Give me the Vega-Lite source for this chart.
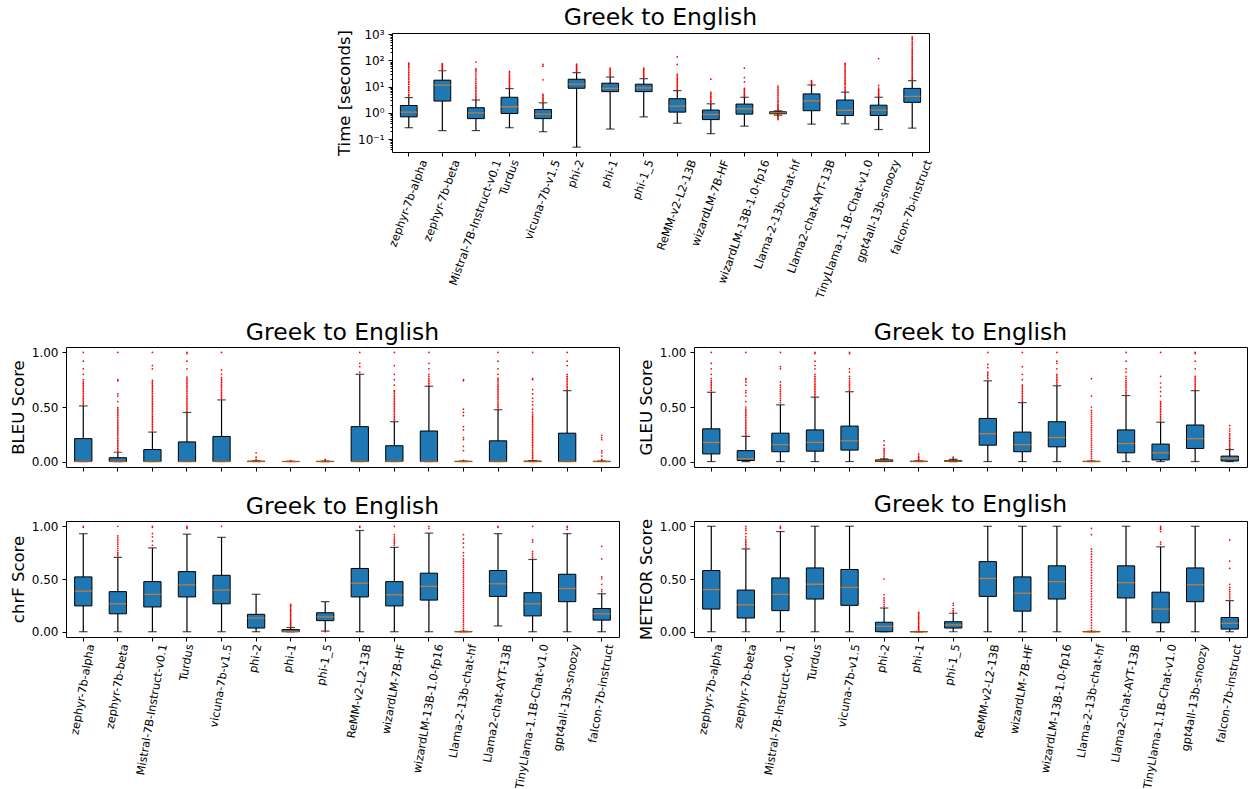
{
"$schema": "https://vega.github.io/schema/vega-lite/v6.json",
"background": "white",
"padding": {"left": 10, "top": 5, "right": 0, "bottom": 0},
"config": {
  "font": "DejaVu Sans",
  "view": {"stroke": "#000", "strokeWidth": 1},
  "axis": {"labelFont": "DejaVu Sans", "titleFont": "DejaVu Sans", "labelFontSize": 12, "titleFontSize": 16.5, "titleFontWeight": "normal", "labelColor": "#000", "titleColor": "#000", "tickColor": "#000", "tickSize": 4, "tickWidth": 1, "labelPadding": 4, "titlePadding": 4.7, "domain": false, "grid": false, "labelOverlap": false},
  "axisX": {"labelFontSize": 11.3},
  "title": {"font": "DejaVu Sans", "fontSize": 23.5, "fontWeight": "normal", "color": "#000", "offset": 2, "anchor": "middle"}
},
"datasets": {
  "models": [{"i":1,"k":"zephyr-7b-alpha"},{"i":2,"k":"zephyr-7b-beta"},{"i":3,"k":"Mistral-7B-Instruct-v0.1"},{"i":4,"k":"Turdus"},{"i":5,"k":"vicuna-7b-v1.5"},{"i":6,"k":"phi-2"},{"i":7,"k":"phi-1"},{"i":8,"k":"phi-1_5"},{"i":9,"k":"ReMM-v2-L2-13B"},{"i":10,"k":"wizardLM-7B-HF"},{"i":11,"k":"wizardLM-13B-1.0-fp16"},{"i":12,"k":"Llama-2-13b-chat-hf"},{"i":13,"k":"Llama2-chat-AYT-13B"},{"i":14,"k":"TinyLlama-1.1B-Chat-v1.0"},{"i":15,"k":"gpt4all-13b-snoozy"},{"i":16,"k":"falcon-7b-instruct"}],
  "stats": [
    {"m":"T","i":1,"lo":0.27,"q1":0.7,"md":1.06,"q3":1.9,"hi":3.8},
    {"m":"T","i":2,"lo":0.21,"q1":2.8,"md":11.3,"q3":17.5,"hi":40},
    {"m":"T","i":3,"lo":0.21,"q1":0.6,"md":1.0,"q3":1.56,"hi":3.07},
    {"m":"T","i":4,"lo":0.27,"q1":0.94,"md":1.7,"q3":3.9,"hi":8.4},
    {"m":"T","i":5,"lo":0.19,"q1":0.6,"md":0.89,"q3":1.34,"hi":2.4},
    {"m":"T","i":6,"lo":0.049,"q1":8.6,"md":12.3,"q3":19,"hi":34},
    {"m":"T","i":7,"lo":0.24,"q1":6.4,"md":8.6,"q3":13.4,"hi":23},
    {"m":"T","i":8,"lo":0.7,"q1":6.4,"md":8.9,"q3":12.3,"hi":20},
    {"m":"T","i":9,"lo":0.4,"q1":1.06,"md":1.8,"q3":3.45,"hi":7.0},
    {"m":"T","i":10,"lo":0.16,"q1":0.55,"md":0.86,"q3":1.27,"hi":2.2},
    {"m":"T","i":11,"lo":0.31,"q1":0.89,"md":1.42,"q3":2.15,"hi":3.9},
    {"m":"T","i":12,"lo":0.81,"q1":0.92,"md":1.0,"q3":1.09,"hi":1.19},
    {"m":"T","i":13,"lo":0.37,"q1":1.2,"md":2.85,"q3":5.25,"hi":11.5},
    {"m":"T","i":14,"lo":0.38,"q1":0.79,"md":1.24,"q3":3.06,"hi":6.1},
    {"m":"T","i":15,"lo":0.23,"q1":0.79,"md":1.27,"q3":1.95,"hi":3.9},
    {"m":"T","i":16,"lo":0.26,"q1":2.5,"md":4.2,"q3":8.5,"hi":16.8},
    {"m":"B","i":1,"lo":0,"q1":0,"md":0,"q3":0.21,"hi":0.51},
    {"m":"B","i":2,"lo":0,"q1":0,"md":0,"q3":0.035,"hi":0.085},
    {"m":"B","i":3,"lo":0,"q1":0,"md":0,"q3":0.11,"hi":0.27},
    {"m":"B","i":4,"lo":0,"q1":0,"md":0,"q3":0.18,"hi":0.45},
    {"m":"B","i":5,"lo":0,"q1":0,"md":0,"q3":0.23,"hi":0.565},
    {"m":"B","i":6,"lo":0,"q1":0,"md":0,"q3":0.003,"hi":0.006},
    {"m":"B","i":7,"lo":0,"q1":0,"md":0,"q3":0.001,"hi":0.002},
    {"m":"B","i":8,"lo":0,"q1":0,"md":0,"q3":0.002,"hi":0.004},
    {"m":"B","i":9,"lo":0,"q1":0,"md":0,"q3":0.32,"hi":0.8},
    {"m":"B","i":10,"lo":0,"q1":0,"md":0,"q3":0.145,"hi":0.365},
    {"m":"B","i":11,"lo":0,"q1":0,"md":0,"q3":0.28,"hi":0.69},
    {"m":"B","i":12,"lo":0,"q1":0,"md":0,"q3":0.002,"hi":0.004},
    {"m":"B","i":13,"lo":0,"q1":0,"md":0,"q3":0.19,"hi":0.475},
    {"m":"B","i":14,"lo":0,"q1":0,"md":0,"q3":0.004,"hi":0.008},
    {"m":"B","i":15,"lo":0,"q1":0,"md":0,"q3":0.26,"hi":0.65},
    {"m":"B","i":16,"lo":0,"q1":0,"md":0,"q3":0.002,"hi":0.004},
    {"m":"G","i":1,"lo":0,"q1":0.07,"md":0.175,"q3":0.3,"hi":0.635},
    {"m":"G","i":2,"lo":0,"q1":0.01,"md":0.025,"q3":0.1,"hi":0.23},
    {"m":"G","i":3,"lo":0,"q1":0.09,"md":0.155,"q3":0.26,"hi":0.52},
    {"m":"G","i":4,"lo":0,"q1":0.095,"md":0.175,"q3":0.29,"hi":0.59},
    {"m":"G","i":5,"lo":0,"q1":0.105,"md":0.19,"q3":0.325,"hi":0.64},
    {"m":"G","i":6,"lo":0,"q1":0,"md":0.005,"q3":0.015,"hi":0.025},
    {"m":"G","i":7,"lo":0,"q1":0,"md":0.001,"q3":0.003,"hi":0.006},
    {"m":"G","i":8,"lo":0,"q1":0.002,"md":0.005,"q3":0.01,"hi":0.02},
    {"m":"G","i":9,"lo":0,"q1":0.15,"md":0.255,"q3":0.395,"hi":0.74},
    {"m":"G","i":10,"lo":0,"q1":0.09,"md":0.155,"q3":0.27,"hi":0.54},
    {"m":"G","i":11,"lo":0,"q1":0.135,"md":0.22,"q3":0.365,"hi":0.695},
    {"m":"G","i":12,"lo":0,"q1":0,"md":0,"q3":0.002,"hi":0.004},
    {"m":"G","i":13,"lo":0,"q1":0.08,"md":0.165,"q3":0.29,"hi":0.605},
    {"m":"G","i":14,"lo":0,"q1":0.015,"md":0.08,"q3":0.16,"hi":0.36},
    {"m":"G","i":15,"lo":0,"q1":0.12,"md":0.21,"q3":0.335,"hi":0.65},
    {"m":"G","i":16,"lo":0,"q1":0.005,"md":0.03,"q3":0.05,"hi":0.11},
    {"m":"C","i":1,"lo":0,"q1":0.245,"md":0.385,"q3":0.52,"hi":0.93},
    {"m":"C","i":2,"lo":0,"q1":0.17,"md":0.265,"q3":0.38,"hi":0.705},
    {"m":"C","i":3,"lo":0,"q1":0.235,"md":0.355,"q3":0.475,"hi":0.795},
    {"m":"C","i":4,"lo":0,"q1":0.33,"md":0.445,"q3":0.57,"hi":0.925},
    {"m":"C","i":5,"lo":0,"q1":0.265,"md":0.395,"q3":0.535,"hi":0.895},
    {"m":"C","i":6,"lo":0,"q1":0.035,"md":0.13,"q3":0.165,"hi":0.355},
    {"m":"C","i":7,"lo":0,"q1":0,"md":0.003,"q3":0.02,"hi":0.04},
    {"m":"C","i":8,"lo":0.005,"q1":0.105,"md":0.14,"q3":0.18,"hi":0.285},
    {"m":"C","i":9,"lo":0,"q1":0.33,"md":0.46,"q3":0.6,"hi":0.96},
    {"m":"C","i":10,"lo":0,"q1":0.245,"md":0.35,"q3":0.475,"hi":0.8},
    {"m":"C","i":11,"lo":0,"q1":0.3,"md":0.43,"q3":0.555,"hi":0.935},
    {"m":"C","i":12,"lo":0,"q1":0,"md":0,"q3":0.002,"hi":0.004},
    {"m":"C","i":13,"lo":0.055,"q1":0.335,"md":0.455,"q3":0.58,"hi":0.93},
    {"m":"C","i":14,"lo":0,"q1":0.15,"md":0.265,"q3":0.37,"hi":0.685},
    {"m":"C","i":15,"lo":0,"q1":0.285,"md":0.41,"q3":0.545,"hi":0.93},
    {"m":"C","i":16,"lo":0,"q1":0.11,"md":0.17,"q3":0.22,"hi":0.36},
    {"m":"M","i":1,"lo":0,"q1":0.215,"md":0.4,"q3":0.58,"hi":1.0},
    {"m":"M","i":2,"lo":0,"q1":0.13,"md":0.255,"q3":0.395,"hi":0.785},
    {"m":"M","i":3,"lo":0,"q1":0.2,"md":0.355,"q3":0.51,"hi":0.95},
    {"m":"M","i":4,"lo":0,"q1":0.31,"md":0.45,"q3":0.605,"hi":1.0},
    {"m":"M","i":5,"lo":0,"q1":0.25,"md":0.42,"q3":0.59,"hi":1.0},
    {"m":"M","i":6,"lo":0,"q1":0,"md":0.05,"q3":0.09,"hi":0.225},
    {"m":"M","i":7,"lo":0,"q1":0,"md":0,"q3":0.001,"hi":0.002},
    {"m":"M","i":8,"lo":0,"q1":0.035,"md":0.065,"q3":0.095,"hi":0.175},
    {"m":"M","i":9,"lo":0,"q1":0.335,"md":0.505,"q3":0.665,"hi":1.0},
    {"m":"M","i":10,"lo":0,"q1":0.195,"md":0.365,"q3":0.52,"hi":1.0},
    {"m":"M","i":11,"lo":0,"q1":0.31,"md":0.475,"q3":0.625,"hi":1.0},
    {"m":"M","i":12,"lo":0,"q1":0,"md":0,"q3":0.002,"hi":0.004},
    {"m":"M","i":13,"lo":0,"q1":0.32,"md":0.465,"q3":0.625,"hi":1.0},
    {"m":"M","i":14,"lo":0,"q1":0.085,"md":0.215,"q3":0.375,"hi":0.805},
    {"m":"M","i":15,"lo":0,"q1":0.285,"md":0.445,"q3":0.605,"hi":1.0},
    {"m":"M","i":16,"lo":0,"q1":0.025,"md":0.08,"q3":0.135,"hi":0.295}
  ],
  "oT": [
    {"i":1,"v":4},{"i":1,"v":4.5},{"i":1,"v":5},{"i":1,"v":6},{"i":1,"v":7},{"i":1,"v":8},{"i":1,"v":9},{"i":1,"v":10},{"i":1,"v":12},{"i":1,"v":14},{"i":1,"v":16},{"i":1,"v":19},{"i":1,"v":22},{"i":1,"v":26},{"i":1,"v":30},{"i":1,"v":35},{"i":1,"v":40},{"i":1,"v":47},{"i":1,"v":55},{"i":1,"v":62},{"i":1,"v":70},{"i":1,"v":78},
    {"i":2,"v":42},{"i":2,"v":45},{"i":2,"v":48},{"i":2,"v":52},{"i":2,"v":56},{"i":2,"v":60},{"i":2,"v":65},{"i":2,"v":70},{"i":2,"v":75},
    {"i":3,"v":3.3},{"i":3,"v":3.7},{"i":3,"v":4.2},{"i":3,"v":4.8},{"i":3,"v":5.5},{"i":3,"v":6.3},{"i":3,"v":7.2},{"i":3,"v":8.3},{"i":3,"v":9.5},{"i":3,"v":11},{"i":3,"v":13},{"i":3,"v":15},{"i":3,"v":18},{"i":3,"v":21},{"i":3,"v":25},{"i":3,"v":30},{"i":3,"v":36},{"i":3,"v":42},{"i":3,"v":47},{"i":3,"v":86},
    {"i":4,"v":9},{"i":4,"v":10},{"i":4,"v":11},{"i":4,"v":12.5},{"i":4,"v":14},{"i":4,"v":16},{"i":4,"v":18},{"i":4,"v":20},{"i":4,"v":23},{"i":4,"v":26},{"i":4,"v":30},{"i":4,"v":34},{"i":4,"v":38},
    {"i":5,"v":2.6},{"i":5,"v":2.9},{"i":5,"v":3.2},{"i":5,"v":3.6},{"i":5,"v":4},{"i":5,"v":4.5},{"i":5,"v":5},{"i":5,"v":18},{"i":5,"v":60},{"i":5,"v":70},
    {"i":6,"v":36},{"i":6,"v":39},{"i":6,"v":42},{"i":6,"v":46},{"i":6,"v":50},{"i":6,"v":55},{"i":6,"v":60},{"i":6,"v":66},{"i":6,"v":72},
    {"i":7,"v":25},{"i":7,"v":27},{"i":7,"v":30},{"i":7,"v":33},{"i":7,"v":36},{"i":7,"v":40},{"i":7,"v":44},{"i":7,"v":50},
    {"i":8,"v":22},{"i":8,"v":24},{"i":8,"v":27},{"i":8,"v":30},{"i":8,"v":33},{"i":8,"v":37},{"i":8,"v":41},{"i":8,"v":46},{"i":8,"v":50},
    {"i":9,"v":7.5},{"i":9,"v":8.2},{"i":9,"v":9},{"i":9,"v":10},{"i":9,"v":11},{"i":9,"v":12.5},{"i":9,"v":14},{"i":9,"v":16},{"i":9,"v":18},{"i":9,"v":20},{"i":9,"v":23},{"i":9,"v":26},{"i":9,"v":30},{"i":9,"v":70},{"i":9,"v":135},
    {"i":10,"v":2.4},{"i":10,"v":2.7},{"i":10,"v":3},{"i":10,"v":3.4},{"i":10,"v":3.8},{"i":10,"v":4.3},{"i":10,"v":4.9},{"i":10,"v":5.5},{"i":10,"v":6.2},{"i":10,"v":19},
    {"i":11,"v":4.2},{"i":11,"v":4.6},{"i":11,"v":5.1},{"i":11,"v":5.7},{"i":11,"v":6.3},{"i":11,"v":7},{"i":11,"v":7.8},{"i":11,"v":8.5},{"i":11,"v":15},{"i":11,"v":22},{"i":11,"v":50},
    {"i":12,"v":0.55},{"i":12,"v":0.6},{"i":12,"v":0.65},{"i":12,"v":0.7},{"i":12,"v":0.75},{"i":12,"v":0.8},{"i":12,"v":1.22},{"i":12,"v":1.3},{"i":12,"v":1.4},{"i":12,"v":1.55},{"i":12,"v":1.7},{"i":12,"v":1.9},{"i":12,"v":2.1},{"i":12,"v":2.4},{"i":12,"v":2.7},{"i":12,"v":3},{"i":12,"v":3.5},{"i":12,"v":4},{"i":12,"v":4.6},{"i":12,"v":5.3},{"i":12,"v":6.1},{"i":12,"v":7},{"i":12,"v":8},{"i":12,"v":9.2},{"i":12,"v":10.5},
    {"i":13,"v":12.5},{"i":13,"v":13.5},{"i":13,"v":14.5},{"i":13,"v":15.5},{"i":13,"v":17},
    {"i":14,"v":6.6},{"i":14,"v":7.3},{"i":14,"v":8.2},{"i":14,"v":9.2},{"i":14,"v":10.5},{"i":14,"v":12},{"i":14,"v":13.5},{"i":14,"v":15},{"i":14,"v":17},{"i":14,"v":19.5},{"i":14,"v":22},{"i":14,"v":25},{"i":14,"v":28},{"i":14,"v":32},{"i":14,"v":36},{"i":14,"v":41},{"i":14,"v":47},{"i":14,"v":54},{"i":14,"v":62},{"i":14,"v":70},{"i":14,"v":76},
    {"i":15,"v":4.1},{"i":15,"v":4.5},{"i":15,"v":5},{"i":15,"v":5.6},{"i":15,"v":6.3},{"i":15,"v":7},{"i":15,"v":7.8},{"i":15,"v":8.8},{"i":15,"v":11},{"i":15,"v":117},
    {"i":16,"v":18},{"i":16,"v":20},{"i":16,"v":22.5},{"i":16,"v":25},{"i":16,"v":28},{"i":16,"v":32},{"i":16,"v":36},{"i":16,"v":41},{"i":16,"v":46},{"i":16,"v":52},{"i":16,"v":59},{"i":16,"v":67},{"i":16,"v":76},{"i":16,"v":86},{"i":16,"v":97},{"i":16,"v":110},{"i":16,"v":125},{"i":16,"v":140},{"i":16,"v":160},{"i":16,"v":180},{"i":16,"v":205},{"i":16,"v":230},{"i":16,"v":260},{"i":16,"v":300},{"i":16,"v":350},{"i":16,"v":400},{"i":16,"v":460},{"i":16,"v":530},{"i":16,"v":620},{"i":16,"v":700},{"i":16,"v":790}
  ],
  "oB": [
    {"i":1,"v":0.52},{"i":1,"v":0.535},{"i":1,"v":0.55},{"i":1,"v":0.565},{"i":1,"v":0.58},{"i":1,"v":0.595},{"i":1,"v":0.61},{"i":1,"v":0.625},{"i":1,"v":0.64},{"i":1,"v":0.655},{"i":1,"v":0.67},{"i":1,"v":0.685},{"i":1,"v":0.7},{"i":1,"v":0.715},{"i":1,"v":0.73},{"i":1,"v":0.75},{"i":1,"v":0.8},{"i":1,"v":0.85},{"i":1,"v":0.92},{"i":1,"v":1},
    {"i":2,"v":0.09},{"i":2,"v":0.105},{"i":2,"v":0.12},{"i":2,"v":0.135},{"i":2,"v":0.15},{"i":2,"v":0.165},{"i":2,"v":0.18},{"i":2,"v":0.195},{"i":2,"v":0.21},{"i":2,"v":0.225},{"i":2,"v":0.24},{"i":2,"v":0.255},{"i":2,"v":0.27},{"i":2,"v":0.285},{"i":2,"v":0.3},{"i":2,"v":0.315},{"i":2,"v":0.33},{"i":2,"v":0.345},{"i":2,"v":0.36},{"i":2,"v":0.375},{"i":2,"v":0.39},{"i":2,"v":0.405},{"i":2,"v":0.42},{"i":2,"v":0.435},{"i":2,"v":0.45},{"i":2,"v":0.465},{"i":2,"v":0.48},{"i":2,"v":0.495},{"i":2,"v":0.55},{"i":2,"v":0.6},{"i":2,"v":0.62},{"i":2,"v":0.74},{"i":2,"v":0.75},{"i":2,"v":1},
    {"i":3,"v":0.28},{"i":3,"v":0.295},{"i":3,"v":0.31},{"i":3,"v":0.325},{"i":3,"v":0.34},{"i":3,"v":0.355},{"i":3,"v":0.37},{"i":3,"v":0.385},{"i":3,"v":0.4},{"i":3,"v":0.415},{"i":3,"v":0.43},{"i":3,"v":0.445},{"i":3,"v":0.46},{"i":3,"v":0.475},{"i":3,"v":0.49},{"i":3,"v":0.505},{"i":3,"v":0.52},{"i":3,"v":0.535},{"i":3,"v":0.55},{"i":3,"v":0.565},{"i":3,"v":0.58},{"i":3,"v":0.595},{"i":3,"v":0.61},{"i":3,"v":0.625},{"i":3,"v":0.64},{"i":3,"v":0.655},{"i":3,"v":0.67},{"i":3,"v":0.685},{"i":3,"v":0.7},{"i":3,"v":0.715},{"i":3,"v":0.73},{"i":3,"v":0.745},{"i":3,"v":0.85},{"i":3,"v":0.88},{"i":3,"v":1},
    {"i":4,"v":0.46},{"i":4,"v":0.475},{"i":4,"v":0.49},{"i":4,"v":0.505},{"i":4,"v":0.52},{"i":4,"v":0.535},{"i":4,"v":0.55},{"i":4,"v":0.565},{"i":4,"v":0.58},{"i":4,"v":0.595},{"i":4,"v":0.61},{"i":4,"v":0.625},{"i":4,"v":0.64},{"i":4,"v":0.655},{"i":4,"v":0.67},{"i":4,"v":0.685},{"i":4,"v":0.7},{"i":4,"v":0.715},{"i":4,"v":0.73},{"i":4,"v":0.745},{"i":4,"v":0.76},{"i":4,"v":0.775},{"i":4,"v":0.85},{"i":4,"v":0.92},{"i":4,"v":0.99},{"i":4,"v":1},
    {"i":5,"v":0.575},{"i":5,"v":0.59},{"i":5,"v":0.605},{"i":5,"v":0.62},{"i":5,"v":0.635},{"i":5,"v":0.65},{"i":5,"v":0.665},{"i":5,"v":0.68},{"i":5,"v":0.695},{"i":5,"v":0.71},{"i":5,"v":0.725},{"i":5,"v":0.74},{"i":5,"v":0.755},{"i":5,"v":0.77},{"i":5,"v":0.8},{"i":5,"v":0.84},{"i":5,"v":1},
    {"i":6,"v":0.01},{"i":6,"v":0.02},{"i":6,"v":0.04},{"i":6,"v":0.08},
    {"i":7,"v":0.004},{"i":7,"v":0.008},
    {"i":8,"v":0.005},{"i":8,"v":0.01},{"i":8,"v":0.02},
    {"i":9,"v":0.82},{"i":9,"v":0.87},{"i":9,"v":0.9},{"i":9,"v":1},
    {"i":10,"v":0.37},{"i":10,"v":0.385},{"i":10,"v":0.4},{"i":10,"v":0.415},{"i":10,"v":0.43},{"i":10,"v":0.445},{"i":10,"v":0.46},{"i":10,"v":0.475},{"i":10,"v":0.49},{"i":10,"v":0.505},{"i":10,"v":0.52},{"i":10,"v":0.535},{"i":10,"v":0.55},{"i":10,"v":0.565},{"i":10,"v":0.58},{"i":10,"v":0.595},{"i":10,"v":0.61},{"i":10,"v":0.625},{"i":10,"v":0.64},{"i":10,"v":0.65},{"i":10,"v":0.7},{"i":10,"v":0.75},{"i":10,"v":0.8},{"i":10,"v":0.88},{"i":10,"v":1},
    {"i":11,"v":0.7},{"i":11,"v":0.715},{"i":11,"v":0.73},{"i":11,"v":0.745},{"i":11,"v":0.76},{"i":11,"v":0.78},{"i":11,"v":0.8},{"i":11,"v":0.85},{"i":11,"v":0.9},{"i":11,"v":1},
    {"i":12,"v":0.01},{"i":12,"v":0.1},{"i":12,"v":0.14},{"i":12,"v":0.2},{"i":12,"v":0.22},{"i":12,"v":0.29},{"i":12,"v":0.32},{"i":12,"v":0.42},{"i":12,"v":0.45},{"i":12,"v":0.48},{"i":12,"v":0.74},{"i":12,"v":0.75},
    {"i":13,"v":0.48},{"i":13,"v":0.495},{"i":13,"v":0.51},{"i":13,"v":0.525},{"i":13,"v":0.54},{"i":13,"v":0.555},{"i":13,"v":0.57},{"i":13,"v":0.585},{"i":13,"v":0.6},{"i":13,"v":0.615},{"i":13,"v":0.63},{"i":13,"v":0.645},{"i":13,"v":0.66},{"i":13,"v":0.675},{"i":13,"v":0.69},{"i":13,"v":0.705},{"i":13,"v":0.72},{"i":13,"v":0.735},{"i":13,"v":0.75},{"i":13,"v":0.765},{"i":13,"v":0.8},{"i":13,"v":0.85},{"i":13,"v":0.92},{"i":13,"v":1},
    {"i":14,"v":0.01},{"i":14,"v":0.025},{"i":14,"v":0.04},{"i":14,"v":0.055},{"i":14,"v":0.07},{"i":14,"v":0.085},{"i":14,"v":0.1},{"i":14,"v":0.115},{"i":14,"v":0.13},{"i":14,"v":0.145},{"i":14,"v":0.16},{"i":14,"v":0.175},{"i":14,"v":0.19},{"i":14,"v":0.205},{"i":14,"v":0.22},{"i":14,"v":0.235},{"i":14,"v":0.25},{"i":14,"v":0.265},{"i":14,"v":0.28},{"i":14,"v":0.295},{"i":14,"v":0.31},{"i":14,"v":0.325},{"i":14,"v":0.34},{"i":14,"v":0.355},{"i":14,"v":0.37},{"i":14,"v":0.385},{"i":14,"v":0.4},{"i":14,"v":0.415},{"i":14,"v":0.43},{"i":14,"v":0.45},{"i":14,"v":0.48},{"i":14,"v":0.52},{"i":14,"v":0.55},{"i":14,"v":0.58},{"i":14,"v":0.62},{"i":14,"v":0.66},{"i":14,"v":0.75},{"i":14,"v":0.76},{"i":14,"v":1},
    {"i":15,"v":0.66},{"i":15,"v":0.675},{"i":15,"v":0.69},{"i":15,"v":0.705},{"i":15,"v":0.72},{"i":15,"v":0.735},{"i":15,"v":0.75},{"i":15,"v":0.765},{"i":15,"v":0.78},{"i":15,"v":0.8},{"i":15,"v":0.88},{"i":15,"v":0.92},{"i":15,"v":1},
    {"i":16,"v":0.01},{"i":16,"v":0.02},{"i":16,"v":0.05},{"i":16,"v":0.08},{"i":16,"v":0.1},{"i":16,"v":0.2},{"i":16,"v":0.22},{"i":16,"v":0.24}
  ],
  "oG": [
    {"i":1,"v":0.65},{"i":1,"v":0.665},{"i":1,"v":0.68},{"i":1,"v":0.695},{"i":1,"v":0.71},{"i":1,"v":0.725},{"i":1,"v":0.74},{"i":1,"v":0.76},{"i":1,"v":0.8},{"i":1,"v":0.85},{"i":1,"v":0.9},{"i":1,"v":1},
    {"i":2,"v":0.24},{"i":2,"v":0.255},{"i":2,"v":0.27},{"i":2,"v":0.285},{"i":2,"v":0.3},{"i":2,"v":0.315},{"i":2,"v":0.33},{"i":2,"v":0.345},{"i":2,"v":0.36},{"i":2,"v":0.375},{"i":2,"v":0.39},{"i":2,"v":0.405},{"i":2,"v":0.42},{"i":2,"v":0.435},{"i":2,"v":0.45},{"i":2,"v":0.465},{"i":2,"v":0.48},{"i":2,"v":0.5},{"i":2,"v":0.55},{"i":2,"v":0.6},{"i":2,"v":0.63},{"i":2,"v":0.65},{"i":2,"v":0.7},{"i":2,"v":0.73},{"i":2,"v":0.75},{"i":2,"v":0.76},{"i":2,"v":1},
    {"i":3,"v":0.54},{"i":3,"v":0.56},{"i":3,"v":0.58},{"i":3,"v":0.6},{"i":3,"v":0.62},{"i":3,"v":0.64},{"i":3,"v":0.66},{"i":3,"v":0.68},{"i":3,"v":0.7},{"i":3,"v":0.73},{"i":3,"v":0.85},{"i":3,"v":0.87},{"i":3,"v":1},
    {"i":4,"v":0.6},{"i":4,"v":0.615},{"i":4,"v":0.63},{"i":4,"v":0.645},{"i":4,"v":0.66},{"i":4,"v":0.675},{"i":4,"v":0.69},{"i":4,"v":0.705},{"i":4,"v":0.72},{"i":4,"v":0.735},{"i":4,"v":0.75},{"i":4,"v":0.765},{"i":4,"v":0.78},{"i":4,"v":0.8},{"i":4,"v":0.85},{"i":4,"v":0.88},{"i":4,"v":0.92},{"i":4,"v":0.99},{"i":4,"v":1},
    {"i":5,"v":0.65},{"i":5,"v":0.665},{"i":5,"v":0.68},{"i":5,"v":0.695},{"i":5,"v":0.71},{"i":5,"v":0.725},{"i":5,"v":0.74},{"i":5,"v":0.76},{"i":5,"v":0.78},{"i":5,"v":0.82},{"i":5,"v":0.85},{"i":5,"v":0.99},{"i":5,"v":1},
    {"i":6,"v":0.03},{"i":6,"v":0.045},{"i":6,"v":0.06},{"i":6,"v":0.075},{"i":6,"v":0.09},{"i":6,"v":0.105},{"i":6,"v":0.12},{"i":6,"v":0.15},{"i":6,"v":0.19},
    {"i":7,"v":0.01},{"i":7,"v":0.02},{"i":7,"v":0.03},{"i":7,"v":0.04},{"i":7,"v":0.05},{"i":7,"v":0.07},
    {"i":8,"v":0.03},{"i":8,"v":0.04},
    {"i":9,"v":0.76},{"i":9,"v":0.775},{"i":9,"v":0.79},{"i":9,"v":0.805},{"i":9,"v":0.82},{"i":9,"v":0.86},{"i":9,"v":0.89},{"i":9,"v":1},
    {"i":10,"v":0.55},{"i":10,"v":0.565},{"i":10,"v":0.58},{"i":10,"v":0.595},{"i":10,"v":0.61},{"i":10,"v":0.625},{"i":10,"v":0.64},{"i":10,"v":0.655},{"i":10,"v":0.67},{"i":10,"v":0.685},{"i":10,"v":0.7},{"i":10,"v":0.75},{"i":10,"v":0.8},{"i":10,"v":0.87},{"i":10,"v":1},
    {"i":11,"v":0.71},{"i":11,"v":0.725},{"i":11,"v":0.74},{"i":11,"v":0.755},{"i":11,"v":0.77},{"i":11,"v":0.785},{"i":11,"v":0.8},{"i":11,"v":0.85},{"i":11,"v":0.9},{"i":11,"v":0.92},{"i":11,"v":1},
    {"i":12,"v":0.01},{"i":12,"v":0.03},{"i":12,"v":0.05},{"i":12,"v":0.07},{"i":12,"v":0.09},{"i":12,"v":0.11},{"i":12,"v":0.13},{"i":12,"v":0.15},{"i":12,"v":0.17},{"i":12,"v":0.19},{"i":12,"v":0.21},{"i":12,"v":0.23},{"i":12,"v":0.25},{"i":12,"v":0.27},{"i":12,"v":0.29},{"i":12,"v":0.31},{"i":12,"v":0.33},{"i":12,"v":0.35},{"i":12,"v":0.37},{"i":12,"v":0.39},{"i":12,"v":0.41},{"i":12,"v":0.43},{"i":12,"v":0.45},{"i":12,"v":0.47},{"i":12,"v":0.5},{"i":12,"v":0.6},{"i":12,"v":0.76},
    {"i":13,"v":0.62},{"i":13,"v":0.635},{"i":13,"v":0.65},{"i":13,"v":0.665},{"i":13,"v":0.68},{"i":13,"v":0.695},{"i":13,"v":0.71},{"i":13,"v":0.725},{"i":13,"v":0.74},{"i":13,"v":0.76},{"i":13,"v":0.78},{"i":13,"v":0.82},{"i":13,"v":0.85},{"i":13,"v":0.92},{"i":13,"v":1},
    {"i":14,"v":0.37},{"i":14,"v":0.385},{"i":14,"v":0.4},{"i":14,"v":0.415},{"i":14,"v":0.43},{"i":14,"v":0.445},{"i":14,"v":0.46},{"i":14,"v":0.475},{"i":14,"v":0.49},{"i":14,"v":0.505},{"i":14,"v":0.52},{"i":14,"v":0.535},{"i":14,"v":0.55},{"i":14,"v":0.6},{"i":14,"v":0.64},{"i":14,"v":0.68},{"i":14,"v":0.72},{"i":14,"v":0.78},{"i":14,"v":1},
    {"i":15,"v":0.66},{"i":15,"v":0.675},{"i":15,"v":0.69},{"i":15,"v":0.705},{"i":15,"v":0.72},{"i":15,"v":0.735},{"i":15,"v":0.75},{"i":15,"v":0.765},{"i":15,"v":0.78},{"i":15,"v":0.85},{"i":15,"v":0.92},{"i":15,"v":0.99},{"i":15,"v":1},
    {"i":16,"v":0.12},{"i":16,"v":0.135},{"i":16,"v":0.15},{"i":16,"v":0.165},{"i":16,"v":0.18},{"i":16,"v":0.195},{"i":16,"v":0.21},{"i":16,"v":0.225},{"i":16,"v":0.24},{"i":16,"v":0.255},{"i":16,"v":0.28},{"i":16,"v":0.3},{"i":16,"v":0.33}
  ],
  "oC": [
    {"i":1,"v":0.99},{"i":1,"v":1},
    {"i":2,"v":0.72},{"i":2,"v":0.735},{"i":2,"v":0.75},{"i":2,"v":0.77},{"i":2,"v":0.79},{"i":2,"v":0.81},{"i":2,"v":0.83},{"i":2,"v":0.85},{"i":2,"v":0.87},{"i":2,"v":0.89},{"i":2,"v":0.91},{"i":2,"v":1},
    {"i":3,"v":0.82},{"i":3,"v":0.86},{"i":3,"v":0.9},{"i":3,"v":0.93},{"i":3,"v":0.99},{"i":3,"v":1},
    {"i":4,"v":0.98},{"i":4,"v":0.99},{"i":4,"v":1},
    {"i":5,"v":1},
    {"i":7,"v":0.045},{"i":7,"v":0.057},{"i":7,"v":0.069},{"i":7,"v":0.081},{"i":7,"v":0.093},{"i":7,"v":0.105},{"i":7,"v":0.117},{"i":7,"v":0.129},{"i":7,"v":0.141},{"i":7,"v":0.153},{"i":7,"v":0.165},{"i":7,"v":0.177},{"i":7,"v":0.189},{"i":7,"v":0.201},{"i":7,"v":0.213},{"i":7,"v":0.225},{"i":7,"v":0.237},{"i":7,"v":0.249},{"i":7,"v":0.26},
    {"i":8,"v":0},{"i":8,"v":0.005},
    {"i":9,"v":0.99},{"i":9,"v":1},
    {"i":10,"v":0.82},{"i":10,"v":0.835},{"i":10,"v":0.85},{"i":10,"v":0.865},{"i":10,"v":0.88},{"i":10,"v":0.9},{"i":10,"v":0.92},{"i":10,"v":1},
    {"i":11,"v":0.98},{"i":11,"v":1},
    {"i":12,"v":0.01},{"i":12,"v":0.03},{"i":12,"v":0.05},{"i":12,"v":0.07},{"i":12,"v":0.09},{"i":12,"v":0.11},{"i":12,"v":0.13},{"i":12,"v":0.15},{"i":12,"v":0.17},{"i":12,"v":0.19},{"i":12,"v":0.21},{"i":12,"v":0.23},{"i":12,"v":0.25},{"i":12,"v":0.27},{"i":12,"v":0.29},{"i":12,"v":0.31},{"i":12,"v":0.33},{"i":12,"v":0.35},{"i":12,"v":0.37},{"i":12,"v":0.39},{"i":12,"v":0.41},{"i":12,"v":0.43},{"i":12,"v":0.45},{"i":12,"v":0.47},{"i":12,"v":0.49},{"i":12,"v":0.51},{"i":12,"v":0.53},{"i":12,"v":0.55},{"i":12,"v":0.57},{"i":12,"v":0.59},{"i":12,"v":0.61},{"i":12,"v":0.63},{"i":12,"v":0.65},{"i":12,"v":0.67},{"i":12,"v":0.69},{"i":12,"v":0.72},{"i":12,"v":0.75},{"i":12,"v":0.8},{"i":12,"v":0.84},{"i":12,"v":0.88},{"i":12,"v":0.92},
    {"i":13,"v":0.99},{"i":13,"v":1},
    {"i":14,"v":0.7},{"i":14,"v":0.72},{"i":14,"v":0.74},{"i":14,"v":0.76},{"i":14,"v":0.85},{"i":14,"v":0.87},{"i":14,"v":1},
    {"i":15,"v":0.97},{"i":15,"v":0.99},{"i":15,"v":1},
    {"i":16,"v":0.38},{"i":16,"v":0.4},{"i":16,"v":0.45},{"i":16,"v":0.5},{"i":16,"v":0.52},{"i":16,"v":0.69},{"i":16,"v":0.81}
  ],
  "oM": [
    {"i":2,"v":0.8},{"i":2,"v":0.815},{"i":2,"v":0.83},{"i":2,"v":0.845},{"i":2,"v":0.86},{"i":2,"v":0.875},{"i":2,"v":0.9},{"i":2,"v":0.93},{"i":2,"v":0.96},{"i":2,"v":0.98},{"i":2,"v":1},
    {"i":3,"v":0.98},{"i":3,"v":0.99},{"i":3,"v":1},
    {"i":6,"v":0.24},{"i":6,"v":0.26},{"i":6,"v":0.28},{"i":6,"v":0.3},{"i":6,"v":0.32},{"i":6,"v":0.35},{"i":6,"v":0.5},
    {"i":7,"v":0.005},{"i":7,"v":0.017},{"i":7,"v":0.029},{"i":7,"v":0.041},{"i":7,"v":0.053},{"i":7,"v":0.065},{"i":7,"v":0.077},{"i":7,"v":0.089},{"i":7,"v":0.101},{"i":7,"v":0.113},{"i":7,"v":0.125},{"i":7,"v":0.137},{"i":7,"v":0.149},{"i":7,"v":0.161},{"i":7,"v":0.173},{"i":7,"v":0.183},
    {"i":8,"v":0.185},{"i":8,"v":0.2},{"i":8,"v":0.22},{"i":8,"v":0.25},{"i":8,"v":0.27},
    {"i":12,"v":0.01},{"i":12,"v":0.035},{"i":12,"v":0.06},{"i":12,"v":0.085},{"i":12,"v":0.11},{"i":12,"v":0.135},{"i":12,"v":0.16},{"i":12,"v":0.185},{"i":12,"v":0.21},{"i":12,"v":0.235},{"i":12,"v":0.26},{"i":12,"v":0.285},{"i":12,"v":0.31},{"i":12,"v":0.335},{"i":12,"v":0.36},{"i":12,"v":0.385},{"i":12,"v":0.41},{"i":12,"v":0.435},{"i":12,"v":0.46},{"i":12,"v":0.485},{"i":12,"v":0.51},{"i":12,"v":0.535},{"i":12,"v":0.56},{"i":12,"v":0.585},{"i":12,"v":0.61},{"i":12,"v":0.635},{"i":12,"v":0.66},{"i":12,"v":0.685},{"i":12,"v":0.71},{"i":12,"v":0.735},{"i":12,"v":0.76},{"i":12,"v":0.785},{"i":12,"v":0.92},{"i":12,"v":0.98},
    {"i":14,"v":0.83},{"i":14,"v":0.85},{"i":14,"v":0.95},{"i":14,"v":0.97},{"i":14,"v":0.98},{"i":14,"v":0.99},{"i":14,"v":1},
    {"i":16,"v":0.3},{"i":16,"v":0.32},{"i":16,"v":0.34},{"i":16,"v":0.36},{"i":16,"v":0.38},{"i":16,"v":0.4},{"i":16,"v":0.42},{"i":16,"v":0.45},{"i":16,"v":0.6},{"i":16,"v":0.67},{"i":16,"v":0.87}
  ]
},
"spacing": 20,
"vconcat": [
  {"spacing": 0, "hconcat": [
    {"width": 270, "height": 10, "data": {"values": []}, "mark": "point", "view": {"stroke": null}},
    {"width": 537, "height": 119, "title": {"text": "Greek to English", "offset": -1},
     "encoding": {"x": {"field": "k", "type": "nominal", "title": null,
        "scale": {"domain": ["zephyr-7b-alpha","zephyr-7b-beta","Mistral-7B-Instruct-v0.1","Turdus","vicuna-7b-v1.5","phi-2","phi-1","phi-1_5","ReMM-v2-L2-13B","wizardLM-7B-HF","wizardLM-13B-1.0-fp16","Llama-2-13b-chat-hf","Llama2-chat-AYT-13B","TinyLlama-1.1B-Chat-v1.0","gpt4all-13b-snoozy","falcon-7b-instruct"], "paddingInner": 0, "paddingOuter": 0},
        "axis": {"labelAngle": -70, "labelAlign": "right", "labelBaseline": "middle",
          "labelOffset": {"condition": [
            {"test": "datum.value === 'zephyr-7b-alpha'", "value": 15.8},
            {"test": "datum.value === 'zephyr-7b-beta'", "value": 14.8},
            {"test": "datum.value === 'Mistral-7B-Instruct-v0.1'", "value": 22.8},
            {"test": "datum.value === 'Turdus'", "value": 6.7},
            {"test": "datum.value === 'vicuna-7b-v1.5'", "value": 14.4},
            {"test": "datum.value === 'phi-2'", "value": 4.9},
            {"test": "datum.value === 'phi-1'", "value": 4.9},
            {"test": "datum.value === 'phi-1_5'", "value": 7.1},
            {"test": "datum.value === 'ReMM-v2-L2-13B'", "value": 16.4},
            {"test": "datum.value === 'wizardLM-7B-HF'", "value": 15.6},
            {"test": "datum.value === 'wizardLM-13B-1.0-fp16'", "value": 22.4},
            {"test": "datum.value === 'Llama-2-13b-chat-hf'", "value": 19.7},
            {"test": "datum.value === 'Llama2-chat-AYT-13B'", "value": 20.9},
            {"test": "datum.value === 'TinyLlama-1.1B-Chat-v1.0'", "value": 25.1},
            {"test": "datum.value === 'gpt4all-13b-snoozy'", "value": 18.5}
          ], "value": 17.0}}}},
     "layer": [
       {"data": {"name": "stats"}, "transform": [{"filter": "datum.m === 'T'"}, {"lookup": "i", "from": {"data": {"name": "models"}, "key": "i", "fields": ["k"]}}],
        "layer": [
          {"mark": {"type": "rule", "color": "#000", "strokeWidth": 1.2}, "encoding": {"y": {"field": "lo", "type": "quantitative", "title": "Time [seconds]", "scale": {"type": "log", "domain": [0.032, 1100], "nice": false}, "axis": {"title": "Time [seconds]", "values": [0.04,0.05,0.06,0.07,0.08,0.09,0.1,0.2,0.3,0.4,0.5,0.6,0.7,0.8,0.9,1,2,3,4,5,6,7,8,9,10,20,30,40,50,60,70,80,90,100,200,300,400,500,600,700,800,900,1000], "labelExpr": "datum.value == 0.1 ? '10⁻¹' : datum.value == 1 ? '10⁰' : datum.value == 10 ? '10¹' : datum.value == 100 ? '10²' : datum.value == 1000 ? '10³' : ''", "tickSize": {"condition": {"test": "indexof([0.1,1,10,100,1000], datum.value) >= 0", "value": 4}, "value": 2}}}, "y2": {"field": "hi"}}},
          {"mark": {"type": "tick", "color": "#000", "size": 8.4, "thickness": 1.2}, "encoding": {"y": {"field": "lo", "type": "quantitative", "title": "Time [seconds]"}}},
          {"mark": {"type": "tick", "color": "#000", "size": 8.4, "thickness": 1.2}, "encoding": {"y": {"field": "hi", "type": "quantitative", "title": "Time [seconds]"}}},
          {"mark": {"type": "bar", "width": {"band": 0.5}, "fill": "#1f77b4", "stroke": "#000", "strokeWidth": 1}, "encoding": {"y": {"field": "q1", "type": "quantitative", "title": "Time [seconds]"}, "y2": {"field": "q3"}}},
          {"mark": {"type": "tick", "color": "#ff7f0e", "size": 16.8, "thickness": 1.3}, "encoding": {"y": {"field": "md", "type": "quantitative", "title": "Time [seconds]"}}}
        ]},
       {"data": {"name": "oT"}, "transform": [{"lookup": "i", "from": {"data": {"name": "models"}, "key": "i", "fields": ["k"]}}], "mark": {"type": "point", "filled": true, "color": "#ff0000", "size": 3, "opacity": 1}, "encoding": {"y": {"field": "v", "type": "quantitative", "title": "Time [seconds]"}}}
     ]}
  ]},
  {"spacing": 20, "vconcat": [
    {"spacing": 18, "hconcat": [
      {"width": 553, "height": 120, "title": "Greek to English",
       "encoding": {"x": {"field": "k", "type": "nominal", "title": null, "scale": {"domain": ["zephyr-7b-alpha","zephyr-7b-beta","Mistral-7B-Instruct-v0.1","Turdus","vicuna-7b-v1.5","phi-2","phi-1","phi-1_5","ReMM-v2-L2-13B","wizardLM-7B-HF","wizardLM-13B-1.0-fp16","Llama-2-13b-chat-hf","Llama2-chat-AYT-13B","TinyLlama-1.1B-Chat-v1.0","gpt4all-13b-snoozy","falcon-7b-instruct"], "paddingInner": 0, "paddingOuter": 0}, "axis": {"labels": false}}},
       "layer": [
         {"data": {"name": "stats"}, "transform": [{"filter": "datum.m === 'B'"}, {"lookup": "i", "from": {"data": {"name": "models"}, "key": "i", "fields": ["k"]}}],
          "layer": [
            {"mark": {"type": "rule", "color": "#000", "strokeWidth": 1.2}, "encoding": {"y": {"field": "lo", "type": "quantitative", "title": "BLEU Score", "scale": {"domain": [-0.05, 1.05], "nice": false, "zero": false}, "axis": {"values": [0, 0.25, 0.5, 0.75, 1], "format": ".2f"}}, "y2": {"field": "hi"}}},
            {"mark": {"type": "tick", "color": "#000", "size": 8.6, "thickness": 1.2}, "encoding": {"y": {"field": "lo", "type": "quantitative", "title": "BLEU Score"}}},
            {"mark": {"type": "tick", "color": "#000", "size": 8.6, "thickness": 1.2}, "encoding": {"y": {"field": "hi", "type": "quantitative", "title": "BLEU Score"}}},
            {"mark": {"type": "bar", "width": {"band": 0.5}, "fill": "#1f77b4", "stroke": "#000", "strokeWidth": 1}, "encoding": {"y": {"field": "q1", "type": "quantitative", "title": "BLEU Score"}, "y2": {"field": "q3"}}},
            {"mark": {"type": "tick", "color": "#ff7f0e", "size": 17.3, "thickness": 1.3}, "encoding": {"y": {"field": "md", "type": "quantitative", "title": "BLEU Score"}}}
          ]},
         {"data": {"name": "oB"}, "transform": [{"lookup": "i", "from": {"data": {"name": "models"}, "key": "i", "fields": ["k"]}}], "mark": {"type": "point", "filled": true, "color": "#ff0000", "size": 3, "opacity": 1}, "encoding": {"y": {"field": "v", "type": "quantitative", "title": "BLEU Score"}}}
       ]},
      {"width": 553, "height": 120, "title": "Greek to English",
       "encoding": {"x": {"field": "k", "type": "nominal", "title": null, "scale": {"domain": ["zephyr-7b-alpha","zephyr-7b-beta","Mistral-7B-Instruct-v0.1","Turdus","vicuna-7b-v1.5","phi-2","phi-1","phi-1_5","ReMM-v2-L2-13B","wizardLM-7B-HF","wizardLM-13B-1.0-fp16","Llama-2-13b-chat-hf","Llama2-chat-AYT-13B","TinyLlama-1.1B-Chat-v1.0","gpt4all-13b-snoozy","falcon-7b-instruct"], "paddingInner": 0, "paddingOuter": 0}, "axis": {"labels": false}}},
       "layer": [
         {"data": {"name": "stats"}, "transform": [{"filter": "datum.m === 'G'"}, {"lookup": "i", "from": {"data": {"name": "models"}, "key": "i", "fields": ["k"]}}],
          "layer": [
            {"mark": {"type": "rule", "color": "#000", "strokeWidth": 1.2}, "encoding": {"y": {"field": "lo", "type": "quantitative", "title": "GLEU Score", "scale": {"domain": [-0.05, 1.05], "nice": false, "zero": false}, "axis": {"values": [0, 0.25, 0.5, 0.75, 1], "format": ".2f"}}, "y2": {"field": "hi"}}},
            {"mark": {"type": "tick", "color": "#000", "size": 8.6, "thickness": 1.2}, "encoding": {"y": {"field": "lo", "type": "quantitative", "title": "GLEU Score"}}},
            {"mark": {"type": "tick", "color": "#000", "size": 8.6, "thickness": 1.2}, "encoding": {"y": {"field": "hi", "type": "quantitative", "title": "GLEU Score"}}},
            {"mark": {"type": "bar", "width": {"band": 0.5}, "fill": "#1f77b4", "stroke": "#000", "strokeWidth": 1}, "encoding": {"y": {"field": "q1", "type": "quantitative", "title": "GLEU Score"}, "y2": {"field": "q3"}}},
            {"mark": {"type": "tick", "color": "#ff7f0e", "size": 17.3, "thickness": 1.3}, "encoding": {"y": {"field": "md", "type": "quantitative", "title": "GLEU Score"}}}
          ]},
         {"data": {"name": "oG"}, "transform": [{"lookup": "i", "from": {"data": {"name": "models"}, "key": "i", "fields": ["k"]}}], "mark": {"type": "point", "filled": true, "color": "#ff0000", "size": 3, "opacity": 1}, "encoding": {"y": {"field": "v", "type": "quantitative", "title": "GLEU Score"}}}
       ]}
    ]},
    {"spacing": 18, "hconcat": [
      {"width": 553, "height": 116, "title": "Greek to English",
       "encoding": {"x": {"field": "k", "type": "nominal", "title": null, "scale": {"domain": ["zephyr-7b-alpha","zephyr-7b-beta","Mistral-7B-Instruct-v0.1","Turdus","vicuna-7b-v1.5","phi-2","phi-1","phi-1_5","ReMM-v2-L2-13B","wizardLM-7B-HF","wizardLM-13B-1.0-fp16","Llama-2-13b-chat-hf","Llama2-chat-AYT-13B","TinyLlama-1.1B-Chat-v1.0","gpt4all-13b-snoozy","falcon-7b-instruct"], "paddingInner": 0, "paddingOuter": 0},
          "axis": {"labelAngle": -80, "labelAlign": "right", "labelBaseline": "middle", "labelPadding": 3,
            "labelOffset": {"condition": [
              {"test": "datum.value === 'zephyr-7b-alpha'", "value": 8.0},
              {"test": "datum.value === 'zephyr-7b-beta'", "value": 7.5},
              {"test": "datum.value === 'Mistral-7B-Instruct-v0.1'", "value": 11.6},
              {"test": "datum.value === 'Turdus'", "value": 3.4},
              {"test": "datum.value === 'vicuna-7b-v1.5'", "value": 7.3},
              {"test": "datum.value === 'phi-2'", "value": 2.5},
              {"test": "datum.value === 'phi-1'", "value": 2.5},
              {"test": "datum.value === 'phi-1_5'", "value": 3.6},
              {"test": "datum.value === 'ReMM-v2-L2-13B'", "value": 8.4},
              {"test": "datum.value === 'wizardLM-7B-HF'", "value": 7.9},
              {"test": "datum.value === 'wizardLM-13B-1.0-fp16'", "value": 11.4},
              {"test": "datum.value === 'Llama-2-13b-chat-hf'", "value": 10.0},
              {"test": "datum.value === 'Llama2-chat-AYT-13B'", "value": 10.6},
              {"test": "datum.value === 'TinyLlama-1.1B-Chat-v1.0'", "value": 12.8},
              {"test": "datum.value === 'gpt4all-13b-snoozy'", "value": 9.4}
            ], "value": 8.7}}}},
       "layer": [
         {"data": {"name": "stats"}, "transform": [{"filter": "datum.m === 'C'"}, {"lookup": "i", "from": {"data": {"name": "models"}, "key": "i", "fields": ["k"]}}],
          "layer": [
            {"mark": {"type": "rule", "color": "#000", "strokeWidth": 1.2}, "encoding": {"y": {"field": "lo", "type": "quantitative", "title": "chrF Score", "scale": {"domain": [-0.05, 1.05], "nice": false, "zero": false}, "axis": {"values": [0, 0.25, 0.5, 0.75, 1], "format": ".2f"}}, "y2": {"field": "hi"}}},
            {"mark": {"type": "tick", "color": "#000", "size": 8.6, "thickness": 1.2}, "encoding": {"y": {"field": "lo", "type": "quantitative", "title": "chrF Score"}}},
            {"mark": {"type": "tick", "color": "#000", "size": 8.6, "thickness": 1.2}, "encoding": {"y": {"field": "hi", "type": "quantitative", "title": "chrF Score"}}},
            {"mark": {"type": "bar", "width": {"band": 0.5}, "fill": "#1f77b4", "stroke": "#000", "strokeWidth": 1}, "encoding": {"y": {"field": "q1", "type": "quantitative", "title": "chrF Score"}, "y2": {"field": "q3"}}},
            {"mark": {"type": "tick", "color": "#ff7f0e", "size": 17.3, "thickness": 1.3}, "encoding": {"y": {"field": "md", "type": "quantitative", "title": "chrF Score"}}}
          ]},
         {"data": {"name": "oC"}, "transform": [{"lookup": "i", "from": {"data": {"name": "models"}, "key": "i", "fields": ["k"]}}], "mark": {"type": "point", "filled": true, "color": "#ff0000", "size": 3, "opacity": 1}, "encoding": {"y": {"field": "v", "type": "quantitative", "title": "chrF Score"}}}
       ]},
      {"width": 553, "height": 116, "title": "Greek to English",
       "encoding": {"x": {"field": "k", "type": "nominal", "title": null, "scale": {"domain": ["zephyr-7b-alpha","zephyr-7b-beta","Mistral-7B-Instruct-v0.1","Turdus","vicuna-7b-v1.5","phi-2","phi-1","phi-1_5","ReMM-v2-L2-13B","wizardLM-7B-HF","wizardLM-13B-1.0-fp16","Llama-2-13b-chat-hf","Llama2-chat-AYT-13B","TinyLlama-1.1B-Chat-v1.0","gpt4all-13b-snoozy","falcon-7b-instruct"], "paddingInner": 0, "paddingOuter": 0},
          "axis": {"labelAngle": -80, "labelAlign": "right", "labelBaseline": "middle", "labelPadding": 3,
            "labelOffset": {"condition": [
              {"test": "datum.value === 'zephyr-7b-alpha'", "value": 8.0},
              {"test": "datum.value === 'zephyr-7b-beta'", "value": 7.5},
              {"test": "datum.value === 'Mistral-7B-Instruct-v0.1'", "value": 11.6},
              {"test": "datum.value === 'Turdus'", "value": 3.4},
              {"test": "datum.value === 'vicuna-7b-v1.5'", "value": 7.3},
              {"test": "datum.value === 'phi-2'", "value": 2.5},
              {"test": "datum.value === 'phi-1'", "value": 2.5},
              {"test": "datum.value === 'phi-1_5'", "value": 3.6},
              {"test": "datum.value === 'ReMM-v2-L2-13B'", "value": 8.4},
              {"test": "datum.value === 'wizardLM-7B-HF'", "value": 7.9},
              {"test": "datum.value === 'wizardLM-13B-1.0-fp16'", "value": 11.4},
              {"test": "datum.value === 'Llama-2-13b-chat-hf'", "value": 10.0},
              {"test": "datum.value === 'Llama2-chat-AYT-13B'", "value": 10.6},
              {"test": "datum.value === 'TinyLlama-1.1B-Chat-v1.0'", "value": 12.8},
              {"test": "datum.value === 'gpt4all-13b-snoozy'", "value": 9.4}
            ], "value": 8.7}}}},
       "layer": [
         {"data": {"name": "stats"}, "transform": [{"filter": "datum.m === 'M'"}, {"lookup": "i", "from": {"data": {"name": "models"}, "key": "i", "fields": ["k"]}}],
          "layer": [
            {"mark": {"type": "rule", "color": "#000", "strokeWidth": 1.2}, "encoding": {"y": {"field": "lo", "type": "quantitative", "title": "METEOR Score", "scale": {"domain": [-0.05, 1.05], "nice": false, "zero": false}, "axis": {"values": [0, 0.25, 0.5, 0.75, 1], "format": ".2f"}}, "y2": {"field": "hi"}}},
            {"mark": {"type": "tick", "color": "#000", "size": 8.6, "thickness": 1.2}, "encoding": {"y": {"field": "lo", "type": "quantitative", "title": "METEOR Score"}}},
            {"mark": {"type": "tick", "color": "#000", "size": 8.6, "thickness": 1.2}, "encoding": {"y": {"field": "hi", "type": "quantitative", "title": "METEOR Score"}}},
            {"mark": {"type": "bar", "width": {"band": 0.5}, "fill": "#1f77b4", "stroke": "#000", "strokeWidth": 1}, "encoding": {"y": {"field": "q1", "type": "quantitative", "title": "METEOR Score"}, "y2": {"field": "q3"}}},
            {"mark": {"type": "tick", "color": "#ff7f0e", "size": 17.3, "thickness": 1.3}, "encoding": {"y": {"field": "md", "type": "quantitative", "title": "METEOR Score"}}}
          ]},
         {"data": {"name": "oM"}, "transform": [{"lookup": "i", "from": {"data": {"name": "models"}, "key": "i", "fields": ["k"]}}], "mark": {"type": "point", "filled": true, "color": "#ff0000", "size": 3, "opacity": 1}, "encoding": {"y": {"field": "v", "type": "quantitative", "title": "METEOR Score"}}}
       ]}
    ]}
  ]}
]
}
